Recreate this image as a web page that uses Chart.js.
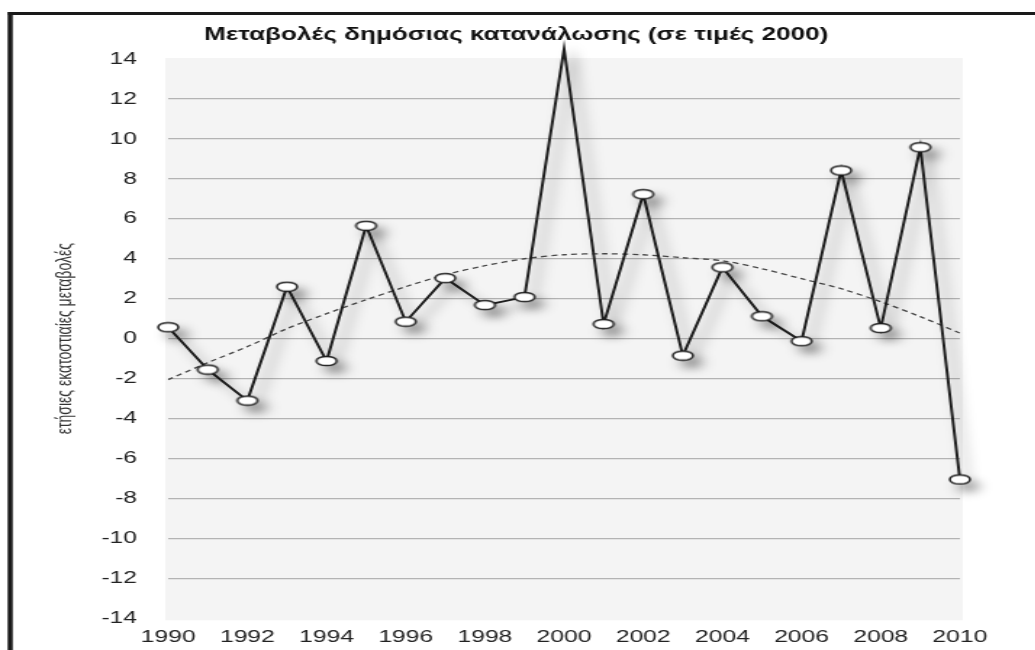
<!DOCTYPE html>
<html>
<head>
<meta charset="utf-8">
<script src="https://cdn.jsdelivr.net/npm/chart.js@4.4.1/dist/chart.umd.min.js"></script>
<style>
  html, body { margin: 0; padding: 0; background: #fff; overflow: hidden; }
  /* the source picture is stretched sideways, so the whole chart is too */
  #stage { width: 714px; height: 650px; transform: scale(1.45, 1); transform-origin: 0 0; }
</style>
</head>
<body>
<div id="stage"><canvas id="chart" width="714" height="650"></canvas></div>
<script>
// --------------------------
// Data
// --------------------------
const years = ["1990", "1991", "1992", "1993", "1994", "1995", "1996", "1997", "1998", "1999", "2000",
  "2001", "2002", "2003", "2004", "2005", "2006", "2007", "2008", "2009", "2010"];

// annual % change of public consumption
const changes = [0.57, -1.55, -3.1, 2.6, -1.12, 5.65, 0.85, 3.03, 1.68, 2.08, 14.5,
  0.73, 7.23, -0.85, 3.57, 1.12, -0.13, 8.42, 0.53, 9.58, -7.05];

// dashed trend curve
const trend = [-2.05, -1.2, -0.4, 0.5, 1.25, 1.95, 2.6, 3.2, 3.65, 4.0, 4.2,
  4.25, 4.2, 4.05, 3.9, 3.5, 3.0, 2.5, 1.85, 1.1, 0.28];

const yMin = -14;
const yMax = 14;
const yStep = 2;

const titleText = "Μεταβολές δημόσιας κατανάλωσης (σε τιμές 2000)";
const yTitleText = "ετήσιες εκατοστιαίες μεταβολές";

// --------------------------
// Marker (oval, white)
// --------------------------
const marker = document.createElement("canvas");
marker.width = 18;
marker.height = 12;
const mctx = marker.getContext("2d");
mctx.beginPath();
mctx.ellipse(9, 6, 7, 4.6, 0, 0, Math.PI * 2);
mctx.fillStyle = "#ffffff";
mctx.fill();
mctx.lineWidth = 1.5;
mctx.strokeStyle = "#1e1e1e";
mctx.stroke();

// --------------------------
// Plugins
// --------------------------
const framePlugin = {
  id: "frame",
  beforeDraw(chart) {
    const { ctx, chartArea } = chart;
    ctx.save();
    // plot background
    ctx.fillStyle = "#f4f4f4";
    ctx.fillRect(chartArea.left - 2, chartArea.top - 1,
      chartArea.right - chartArea.left + 4, chartArea.bottom - chartArea.top + 3);
    // black frame, left and top
    ctx.strokeStyle = "#1a1a1a";
    ctx.lineWidth = 3.5;
    ctx.beginPath();
    ctx.moveTo(7, 12);
    ctx.lineTo(7, chart.height);
    ctx.stroke();
    ctx.lineWidth = 3;
    ctx.beginPath();
    ctx.moveTo(5.5, 13.5);
    ctx.lineTo(chart.width, 13.5);
    ctx.stroke();
    ctx.restore();
  },
};

const shadowPlugin = {
  id: "shadow",
  beforeDatasetDraw(chart, args) {
    if (args.index !== 0) return;
    const ctx = chart.ctx;
    ctx.save();
    ctx.shadowColor = "rgba(0,0,0,0.4)";
    ctx.shadowBlur = 10;
    ctx.shadowOffsetX = 6;
    ctx.shadowOffsetY = 7;
  },
  afterDatasetDraw(chart, args) {
    if (args.index !== 0) return;
    chart.ctx.restore();
  },
};

// --------------------------
// Chart
// --------------------------
const chart = new Chart(document.getElementById("chart"), {
  type: "line",
  data: {
    labels: years,
    datasets: [
      {
        label: "μεταβολή",
        data: changes,
        borderColor: "#1e1e1e",
        borderWidth: 2,
        pointStyle: marker,
        pointRadius: 6,
        tension: 0,
        clip: false,
      },
      {
        label: "τάση",
        data: trend,
        borderColor: "#4a4a4a",
        borderWidth: 1.3,
        borderDash: [4, 3],
        pointRadius: 0,
        tension: 0.3,
      },
    ],
  },
  options: {
    responsive: false,
    animation: false,
    layout: { padding: { left: 8, right: 10, top: 0, bottom: 0 } },
    plugins: {
      legend: { display: false },
      tooltip: { enabled: false },
      title: {
        display: true,
        text: titleText,
        color: "#111111",
        font: { family: "Liberation Sans", size: 18, weight: "bold" },
        padding: { top: 24, bottom: 13.4 },
      },
    },
    scales: {
      x: {
        grid: { display: false },
        border: { display: false },
        ticks: {
          color: "#222222",
          font: { family: "Liberation Sans", size: 17 },
          padding: 1,
          autoSkip: false,
          maxRotation: 0,
          callback: (v, i) => (i % 2 === 0 ? years[i] : ""),
        },
        afterFit: (scale) => { scale.height = 31; },
      },
      y: {
        min: yMin,
        max: yMax,
        grid: {
          drawTicks: false,
          lineWidth: 1.3,
          color: (c) => (c.tick && Math.abs(c.tick.value) === yMax ? "rgba(0,0,0,0)" : "#b3b3b3"),
        },
        border: { display: false },
        ticks: {
          stepSize: yStep,
          color: "#222222",
          font: { family: "Liberation Sans", size: 17 },
          padding: 21.5,
        },
        title: {
          display: true,
          text: yTitleText,
          color: "#333333",
          font: { family: "Liberation Sans", size: 14 },
          padding: { top: 29, bottom: 0 },
        },
        afterFit: (scale) => { scale.width = 108; },
      },
      // empty right axis, keeps room on the right so the title stays centred
      yRight: {
        position: "right",
        display: true,
        grid: { display: false },
        border: { display: false },
        ticks: { display: false },
        afterFit: (scale) => { scale.width = 42; },
      },
    },
  },
  plugins: [framePlugin, shadowPlugin],
});
</script>
</body>
</html>
